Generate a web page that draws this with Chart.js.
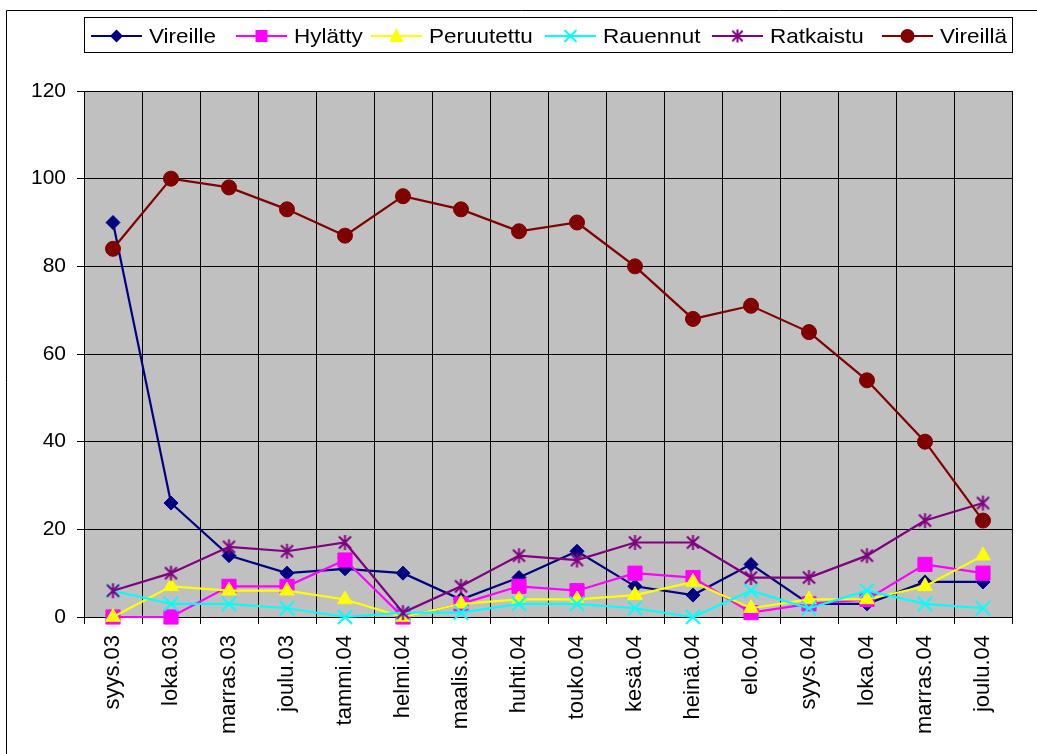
<!DOCTYPE html>
<html><head><meta charset="utf-8">
<script src="https://cdn.jsdelivr.net/npm/chart.js@4.4.1/dist/chart.umd.min.js"></script>
<style>html,body{margin:0;padding:0;background:#fff;}#wrap{width:1037px;height:754px;position:relative;}</style>
</head><body><div id="wrap"><canvas id="c" width="1037" height="754"></canvas></div>
<script>
const months = ['syys.03','loka.03','marras.03','joulu.03','tammi.04','helmi.04','maalis.04','huhti.04','touko.04','kesä.04','heinä.04','elo.04','syys.04','loka.04','marras.04','joulu.04'];
const seriesNames = ['Vireille','Hylätty','Peruutettu','Rauennut','Ratkaistu','Vireillä'];
const vireille   = [90,26,14,10,11,10,4,9,15,7,5,12,3,3,8,8];
const hylatty    = [0,0,7,7,13,0,3,7,6,10,9,1,3,4,12,10];
const peruutettu = [0,7,6,6,4,0,3,4,4,5,8,2,4,4,7,14];
const rauennut   = [6,3,3,2,0,1,1,3,3,2,0,6,2,6,3,2];
const ratkaistu  = [6,10,16,15,17,1,7,14,13,17,17,9,9,14,22,26];
const vireilla   = [84,100,98,93,87,96,93,88,90,80,68,71,65,54,40,22];
const yMin = 0, yMax = 120, yStep = 20;

const FONT = 'Liberation Sans, Arial, sans-serif';
const colors = ['#000080','#FF00FF','#FFFF00','#00FFFF','#800080','#800000'];
const markers = ['diamond','square','triangle','x','star','circle'];

// asterisk marker (vertical + X) as canvas
function makeStar(color, size){
  const c = document.createElement('canvas');
  c.width = size; c.height = size;
  const g = c.getContext('2d');
  g.strokeStyle = color; g.lineWidth = 2;
  const m = size/2, r = size/2 - 1, d = r*0.8;
  g.beginPath();
  g.moveTo(m, m - r); g.lineTo(m, m + r);
  g.moveTo(m - d, m - d); g.lineTo(m + d, m + d);
  g.moveTo(m + d, m - d); g.lineTo(m - d, m + d);
  g.stroke();
  return c;
}
const starPlot = makeStar('#800080', 17);
const starLegend = makeStar('#800080', 15);

const styleMap = {
  diamond: {pointStyle:'rectRot', pointRadius:7, pointBorderWidth:1},
  square: {pointStyle:'rect', pointRadius:10, pointBorderWidth:1},
  triangle: {pointStyle:'triangle', pointRadius:8.5, pointBorderWidth:1},
  x: {pointStyle:'crossRot', pointRadius:10, pointBorderWidth:2},
  star: {pointStyle:starPlot, pointRadius:8, pointBorderWidth:2},
  circle: {pointStyle:'circle', pointRadius:7.5, pointBorderWidth:1}
};

const allData = [vireille, hylatty, peruutettu, rauennut, ratkaistu, vireilla];
const datasets = allData.map((d,i)=>Object.assign({
  label: seriesNames[i],
  data: d,
  borderColor: colors[i],
  backgroundColor: colors[i],
  pointBackgroundColor: colors[i],
  pointBorderColor: colors[i],
  borderWidth: 2.2,
  tension: 0,
  clip: false,
  order: 6 - i
}, styleMap[markers[i]]));

function drawMarker(ctx, type, x, y, color){
  ctx.save();
  ctx.fillStyle = color; ctx.strokeStyle = color; ctx.lineWidth = 2;
  ctx.beginPath();
  if (type === 'diamond'){ const r=6.5; ctx.moveTo(x,y-r); ctx.lineTo(x+r,y); ctx.lineTo(x,y+r); ctx.lineTo(x-r,y); ctx.closePath(); ctx.fill(); }
  else if (type === 'square'){ const s=6; ctx.rect(x-s,y-s,2*s,2*s); ctx.fill(); }
  else if (type === 'triangle'){ ctx.moveTo(x,y-8); ctx.lineTo(x+7,y+6); ctx.lineTo(x-7,y+6); ctx.closePath(); ctx.fill(); }
  else if (type === 'x'){ const r=6; ctx.moveTo(x-r,y-r); ctx.lineTo(x+r,y+r); ctx.moveTo(x+r,y-r); ctx.lineTo(x-r,y+r); ctx.stroke(); }
  else if (type === 'star'){ ctx.drawImage(starLegend, x-7.5, y-7.5); }
  else if (type === 'circle'){ ctx.arc(x,y,7,0,Math.PI*2); ctx.fill(); }
  ctx.restore();
}

const legendLineX = [91, 236, 371, 545, 712, 882];

const decor = {
  id: 'decor',
  beforeDraw(chart){
    const ctx = chart.ctx, a = chart.chartArea;
    ctx.save();
    ctx.fillStyle = '#fff'; ctx.fillRect(0,0,chart.width,chart.height);
    ctx.strokeStyle = '#000'; ctx.lineWidth = 1;
    ctx.beginPath(); ctx.moveTo(6.5, chart.height); ctx.lineTo(6.5, 10.5); ctx.lineTo(chart.width, 10.5); ctx.stroke();
    ctx.fillStyle = '#C0C0C0';
    ctx.fillRect(a.left, a.top, a.right - a.left, a.bottom - a.top);
    ctx.strokeStyle = '#808080';
    ctx.strokeRect(a.left + 0.5, a.top + 0.5, a.right - a.left, a.bottom - a.top);
    ctx.restore();
  },
  afterDraw(chart){
    const ctx = chart.ctx;
    ctx.save();
    ctx.fillStyle = '#fff';
    ctx.fillRect(84.5, 17.5, 928, 35);
    ctx.strokeStyle = '#000'; ctx.lineWidth = 1;
    ctx.strokeRect(84.5, 17.5, 928, 35);
    const cy = 36;
    for (let i = 0; i < seriesNames.length; i++){
      const lx = legendLineX[i];
      ctx.strokeStyle = colors[i]; ctx.lineWidth = 2.2;
      ctx.beginPath(); ctx.moveTo(lx, cy); ctx.lineTo(lx + 51, cy); ctx.stroke();
      drawMarker(ctx, markers[i], lx + 25.5, cy, colors[i]);
      ctx.save();
      ctx.translate(lx + 58, cy);
      ctx.scale(1.07, 1);
      ctx.fillStyle = '#000';
      ctx.font = '21px ' + FONT;
      ctx.textBaseline = 'middle';
      ctx.textAlign = 'left';
      ctx.fillText(seriesNames[i], 0, 1);
      ctx.restore();
    }
    ctx.restore();
  }
};

new Chart(document.getElementById('c'), {
  type: 'line',
  data: { labels: months, datasets },
  options: {
    responsive: false,
    devicePixelRatio: 1,
    animation: false,
    events: [],
    layout: { padding: { left: 6, right: 25, top: 91, bottom: 0 } },
    plugins: { legend: { display: false }, tooltip: { enabled: false } },
    scales: {
      x: {
        type: 'category',
        offset: true,
        grid: {
          offset: true,
          color: (c) => (c.index === months.length ? '#808080' : '#000'),
          lineWidth: 1,
          tickLength: 7,
          drawTicks: true
        },
        border: { display: true, color: '#000', width: 1 },
        ticks: {
          autoSkip: false,
          maxRotation: 90,
          minRotation: 90,
          padding: 11,
          color: '#000',
          font: { family: FONT, size: 22 }
        },
        afterFit(s){ s.height = 137; }
      },
      y: {
        min: yMin, max: yMax,
        grid: { color: '#000', lineWidth: 1, tickLength: 7 },
        border: { display: true, color: '#000', width: 1 },
        ticks: {
          stepSize: yStep,
          padding: 11,
          color: '#000',
          font: { family: FONT, size: 21 }
        },
        afterFit(s){ s.width = 78; }
      }
    }
  },
  plugins: [decor]
});
</script></body></html>
